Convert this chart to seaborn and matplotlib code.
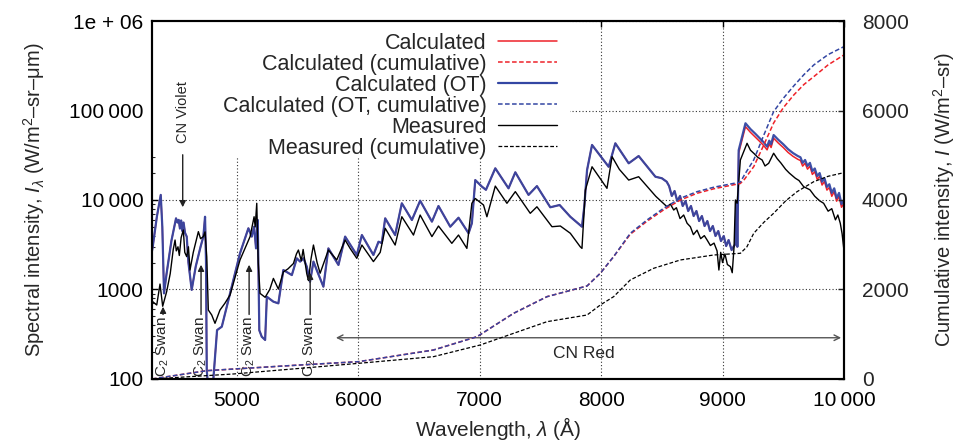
import numpy as np
import pandas as pd
import matplotlib
matplotlib.use("Agg")
import matplotlib.pyplot as plt
from matplotlib.patches import Rectangle
import seaborn as sns

# calculated spectra (W/m2-sr-um), same wavelength grid for both
wl_calc = [4300, 4306, 4340, 4372, 4385, 4399, 4420, 4460, 4498, 4510, 4520, 4530, 4540, 4550, 4560, 4572,
           4586, 4600, 4627, 4660, 4700, 4723, 4737, 4745, 4751, 4770, 4800, 4836, 4875, 4943, 5025, 5094,
           5122, 5141, 5157, 5171, 5184, 5204, 5232, 5246, 5300, 5341, 5382, 5452, 5493, 5520, 5548, 5575,
           5602, 5630, 5657, 5712, 5753, 5836, 5891, 5987, 6029, 6124, 6166, 6193, 6221, 6303, 6358, 6441,
           6509, 6606, 6660, 6757, 6825, 6908, 6935, 6963, 7018, 7051, 7128, 7237, 7293, 7402, 7471, 7581,
           7658, 7746, 7842, 7861, 7884, 7925, 8062, 8117, 8227, 8309, 8447, 8500, 8540,
           8560, 8582, 8605, 8627, 8650, 8672, 8695, 8717, 8740, 8762, 8785, 8807, 8830, 8852, 8875, 8897,
           8920, 8942, 8965, 8987, 9010, 9030, 9050, 9075, 9090, 9105, 9115, 9122, 9133, 9189,
           9230, 9270, 9300, 9340, 9367, 9385, 9400, 9421, 9460, 9500, 9540, 9580, 9620, 9642, 9660, 9680,
           9700, 9720, 9740, 9760, 9780, 9800, 9820, 9840, 9860, 9880, 9900, 9920, 9940, 9960, 9980, 10000]
calc_ot_spec = [2700, 3000, 6500, 11400, 5000, 905, 1500, 3500, 6240, 5600, 6000, 4800, 5900, 4500, 5600, 4300,
                3900, 2000, 990, 1800, 3000, 3900, 6500, 2000, 126, 60, 80, 352, 384, 905, 2540, 4830,
                3900, 5030, 2880, 5980, 350, 297, 273, 830, 731, 700, 1650, 1450, 2230, 2050, 2230, 1800,
                1220, 2050, 1650, 1075, 2880, 1880, 3900, 2430, 4060, 2430, 3420, 3300, 6240, 4060, 9190, 5980,
                9820, 5730, 8570, 5030, 6340, 4250, 5500, 16700, 14100, 13000, 22600, 13500, 20400, 11400, 14300, 8290,
                8790, 6500, 5030, 8400, 21600, 41200, 23500, 43000, 25700, 31000, 18200, 17500, 16000,
                14300, 11100, 12600, 9750, 11100, 8570, 9750, 7530, 8570, 6620, 7530, 5820, 6620, 5120, 5820, 4500,
                5120, 3960, 4500, 3480, 3960, 3060, 3570, 2760, 3000, 3200, 9500, 3000, 36000, 72000,
                62000, 55000, 50000, 44000, 39500, 46000, 42000, 53200, 47000, 42000, 37000, 33500, 31000, 30000, 26000, 28000,
                24000, 26000, 21000, 22500, 18500, 20000, 16000, 17500, 14000, 15000, 12000, 13500, 10500, 12000, 9000, 10000]
calc_spec = [2700, 3000, 6500, 11400, 5000, 905, 1500, 3500, 6240, 5600, 6000, 4800, 5900, 4500, 5600, 4300,
             3900, 2000, 990, 1800, 3000, 3900, 6500, 2000, 126, 60, 80, 352, 384, 905, 2540, 4830,
             3900, 5030, 2880, 5980, 350, 297, 273, 830, 731, 700, 1650, 1450, 2230, 2050, 2230, 1800,
             1220, 2050, 1650, 1075, 2880, 1880, 3900, 2430, 4060, 2430, 3420, 3300, 6240, 4060, 9190, 5980,
             9820, 5730, 8570, 5030, 6340, 4250, 5500, 16700, 14100, 13000, 22600, 13500, 20400, 11400, 14300, 8290,
             8790, 6500, 5030, 8400, 21600, 41200, 23500, 43000, 25700, 31000, 18200, 17500, 16000,
             14300, 11100, 12600, 9750, 11100, 8570, 9750, 7530, 8570, 6620, 7530, 5820, 6620, 5120, 5820, 4500,
             5120, 3960, 4500, 3480, 3960, 3060, 3570, 2760, 3000, 3200, 9500, 3000, 33500, 66000,
             57000, 50500, 46000, 40500, 36300, 42300, 38600, 49000, 43200, 38600, 34000, 30800, 28500, 27600, 23900, 25800,
             22100, 23900, 19300, 20700, 17000, 18400, 14700, 16100, 12900, 13800, 11000, 12400, 9700, 11000, 8300, 9200]

# measured spectrum
wl_meas = [4300, 4306, 4339, 4366, 4388, 4421, 4450, 4475, 4490, 4500, 4514, 4525, 4540, 4558, 4570, 4586,
           4600, 4613, 4640, 4682, 4700, 4723, 4737, 4751, 4764, 4792, 4819, 4860, 4900, 4943, 5025, 5108,
           5141, 5150, 5163, 5175, 5190, 5232, 5270, 5300, 5341, 5382, 5420, 5465, 5490, 5506, 5530, 5545,
           5575, 5589, 5610, 5630, 5660, 5685, 5753, 5822, 5891, 5932, 5987, 6029, 6124, 6180, 6221, 6303,
           6358, 6454, 6509, 6606, 6660, 6770, 6825, 6894, 6935, 6963, 7031, 7059, 7128, 7224, 7293, 7416,
           7471, 7595, 7664, 7746, 7828, 7842, 7870, 7925, 8048, 8090, 8150, 8227, 8309, 8405, 8450, 8500,
           8543, 8570, 8598, 8620, 8650, 8680, 8708, 8735, 8760, 8790, 8820, 8850, 8873, 8900, 8930, 8955,
           8970, 8985, 9000, 9020, 9040, 9065, 9080, 9095, 9106, 9120, 9147, 9202, 9230, 9260, 9290, 9326,
           9350, 9380, 9421, 9450, 9480, 9520, 9550, 9600, 9630, 9668, 9720, 9760, 9800, 9833, 9870, 9900,
           9930, 9950, 9970, 9985, 10000]
meas_spec = [700, 731, 671, 1150, 650, 950, 1500, 2800, 3570, 2700, 3000, 2400, 3800, 4620, 2600, 2330,
             3000, 1650, 2600, 4430, 3700, 3900, 4400, 2330, 590, 519, 419, 590, 700, 869, 2140, 3900,
             6500, 5000, 9190, 2000, 905, 818, 1000, 1330, 1010, 1570, 1700, 1950, 2500, 2760, 2100, 2800,
             1500, 1260, 2200, 3140, 2000, 1520, 2760, 2140, 3570, 2880, 2230, 3140, 2050, 2600, 4830, 3140,
             6500, 4060, 6790, 3900, 5120, 3280, 4060, 2880, 9190, 10400, 8790, 6500, 14300, 9190, 12400, 7100,
             8400, 5030, 5120, 4250, 3000, 2880, 12900, 23500, 13500, 30500, 22000, 16700, 18200, 12900, 11000, 9500,
             8400, 9000, 7730, 8200, 6200, 6800, 5500, 5030, 4100, 4600, 3700, 4000, 3570, 3100, 3300, 2700,
             1650, 2600, 2000, 2500, 1900, 1800, 1540, 3000, 10000, 9190, 28000, 43000, 36000, 33000, 30000, 28000,
             24000, 25700, 33300, 29000, 26000, 22000, 20000, 17500, 16500, 14100, 13000, 11000, 9800, 9190, 7500, 8000,
             6000, 6800, 5500, 4200, 2760]

# cumulative intensities (W/m2-sr)
wl_cum = [4300, 4751, 5520, 6001, 6619, 6977, 7279, 7554, 7884, 7993, 8103, 8240, 8378, 8515, 8653, 8790,
          8927, 9147, 9180, 9257, 9340, 9421, 9500, 9587, 9670, 9752, 9870, 10000]
calc_ot_cum = [0, 186, 313, 387, 648, 945, 1468, 1840, 2079, 2362, 2735, 3256, 3554, 3815, 4039, 4186,
               4285, 4400, 4560, 4895, 5450, 5975, 6270, 6550, 6800, 7018, 7250, 7427]
calc_cum = [0, 186, 313, 387, 648, 945, 1468, 1840, 2079, 2362, 2735, 3235, 3525, 3780, 4000, 4150,
            4250, 4370, 4460, 4745, 5230, 5720, 6060, 6347, 6580, 6757, 7020, 7241]
wl_meas_cum = [4300, 4970, 5520, 6001, 6619, 7004, 7279, 7554, 7884, 7993, 8103, 8240, 8433, 8653, 8927,
               9147, 9200, 9257, 9340, 9421, 9520, 9614, 9752, 9870, 10000]
meas_cum = [0, 112, 238, 350, 499, 760, 1021, 1281, 1430, 1654, 1840, 2213, 2474, 2660, 2771,
            2809, 2950, 3256, 3500, 3703, 3980, 4186, 4410, 4530, 4611]

labels = ["Calculated", "Calculated (cumulative)", "Calculated (OT)",
          "Calculated (OT, cumulative)", "Measured", "Measured (cumulative)"]
x_ticks = [5000, 6000, 7000, 8000, 9000, 10000]
x_ticklabels = ["5000", "6000", "7000", "8000", "9000", "10\u2009000"]
y_ticks = [100, 1000, 10000, 100000, 1000000]
y_ticklabels = ["100", "1000", "10\u2009000", "100\u2009000", "1e + 06"]
y2_ticks = [0, 2000, 4000, 6000, 8000]
swan_wl = [4391, 4704, 5100, 5603]
swan_tip = [689, 2030, 2030, 1650]

sns.set_theme(style="white")
plt.rcParams["font.family"] = ["Liberation Sans", "DejaVu Sans"]
plt.rcParams["mathtext.fontset"] = "custom"
plt.rcParams["mathtext.rm"] = "Liberation Sans"
plt.rcParams["mathtext.it"] = "Liberation Sans:italic"

RED = "#ee2229"
BLUE = "#3346a3"

fig = plt.figure(figsize=(9.59, 4.44), dpi=100)
ax = fig.add_axes([0.1585, 0.1464, 0.7215, 0.8063])
ax2 = ax.twinx()

spec = pd.DataFrame({"wl": wl_calc, "calc": calc_spec, "ot": calc_ot_spec})
meas = pd.DataFrame({"wl": wl_meas, "meas": meas_spec})
cum = pd.DataFrame({"wl": wl_cum, "calc": calc_cum, "ot": calc_ot_cum})
mcum = pd.DataFrame({"wl": wl_meas_cum, "meas": meas_cum})

dash = (0, (3.0, 1.6))
sns.lineplot(data=spec, x="wl", y="calc", ax=ax, color=RED, lw=1.1, sort=False, estimator=None, legend=False)
sns.lineplot(data=spec, x="wl", y="ot", ax=ax, color=BLUE, lw=1.6, alpha=0.95, sort=False, estimator=None, legend=False)
sns.lineplot(data=meas, x="wl", y="meas", ax=ax, color="black", lw=1.0, sort=False, estimator=None, legend=False)

sns.lineplot(data=cum, x="wl", y="calc", ax=ax2, color=RED, lw=1.1, linestyle=dash, sort=False, estimator=None, legend=False)
sns.lineplot(data=cum, x="wl", y="ot", ax=ax2, color=BLUE, lw=1.1, linestyle=dash, sort=False, estimator=None, legend=False)
sns.lineplot(data=mcum, x="wl", y="meas", ax=ax2, color="black", lw=0.9, linestyle=dash, sort=False, estimator=None, legend=False)

ax.set_yscale("log")
ax.set_xlim(4300, 10000)
ax.set_ylim(100, 1e6)
ax2.set_ylim(0, 8000)

ax.set_xticks(x_ticks)
ax.set_xticklabels(x_ticklabels)
ax.set_yticks(y_ticks)
ax.set_yticklabels(y_ticklabels)
ax2.set_yticks(y2_ticks)
ax2.set_yticklabels([str(v) for v in y2_ticks])

ax.tick_params(axis="both", which="major", direction="in", length=4, width=1, labelsize=15,
               top=True, colors="black")
ax.tick_params(axis="x", which="major", pad=8.5)
ax.tick_params(axis="y", which="major", pad=6)
ax.tick_params(axis="y", which="minor", direction="in", length=2.5, width=0.8, left=True)
ax.tick_params(axis="x", which="minor", bottom=False, top=False)
ax2.tick_params(axis="y", which="major", direction="in", length=4, width=1, labelsize=15, pad=13)
ax2.tick_params(axis="y", which="minor", right=False)

ax.set_axisbelow(True)
ax.grid(True, which="major", color="#333333", linestyle=(0, (1, 2)), linewidth=0.8)
ax2.grid(False)
# blank area under the key, as in the original
ax.add_patch(Rectangle((0, 0.62), 0.604, 0.38, transform=ax.transAxes, facecolor="white",
                       edgecolor="none", zorder=1))

for a in (ax, ax2):
    for s in a.spines.values():
        s.set_color("black")
        s.set_linewidth(1.5)

ax.set_xlabel(r"Wavelength, $\lambda$ (Å)", fontsize=15, labelpad=4)
ax.set_ylabel(r"Spectral intensity, $I_{\lambda}$ (W/m$^2$–sr–μm)", fontsize=14.5, labelpad=16)
ax2.set_ylabel(r"Cumulative intensity, $I$ (W/m$^2$–sr)", fontsize=14.5, labelpad=16)

# annotations
ax.annotate("", xy=(4553, 7730), xytext=(4553, 34400),
            arrowprops=dict(arrowstyle="-|>", color="#222222", lw=1.0, mutation_scale=9))
ax.text(4553, 43400, "CN Violet", rotation=90, ha="center", va="bottom", fontsize=10.5)
for w, tip in zip(swan_wl, swan_tip):
    ax.text(w, 104, r"C$_2$ Swan", rotation=90, ha="center", va="bottom", fontsize=11)
    ax.annotate("", xy=(w, tip), xytext=(w, 490),
                arrowprops=dict(arrowstyle="-|>", color="#222222", lw=1.0, mutation_scale=9))
ax.annotate("", xy=(10000, 289), xytext=(5792, 289),
            arrowprops=dict(arrowstyle="<->", color="#555555", lw=1.0, mutation_scale=10))
ax.text(7861, 195, "CN Red", ha="center", va="center", fontsize=12.5)

handles = [
    plt.Line2D([], [], color=RED, lw=1.1),
    plt.Line2D([], [], color=RED, lw=1.1, linestyle=dash),
    plt.Line2D([], [], color=BLUE, lw=1.6),
    plt.Line2D([], [], color=BLUE, lw=1.1, linestyle=dash),
    plt.Line2D([], [], color="black", lw=1.0),
    plt.Line2D([], [], color="black", lw=0.9, linestyle=dash),
]
ax2.legend(handles, labels, loc="upper right", bbox_to_anchor=(0.594, 0.985), markerfirst=False,
           frameon=False, fontsize=15.5, handlelength=2.7, handletextpad=0.55, labelspacing=0.0,
           borderaxespad=0, borderpad=0.3)

fig.savefig("out.png", dpi=100)
